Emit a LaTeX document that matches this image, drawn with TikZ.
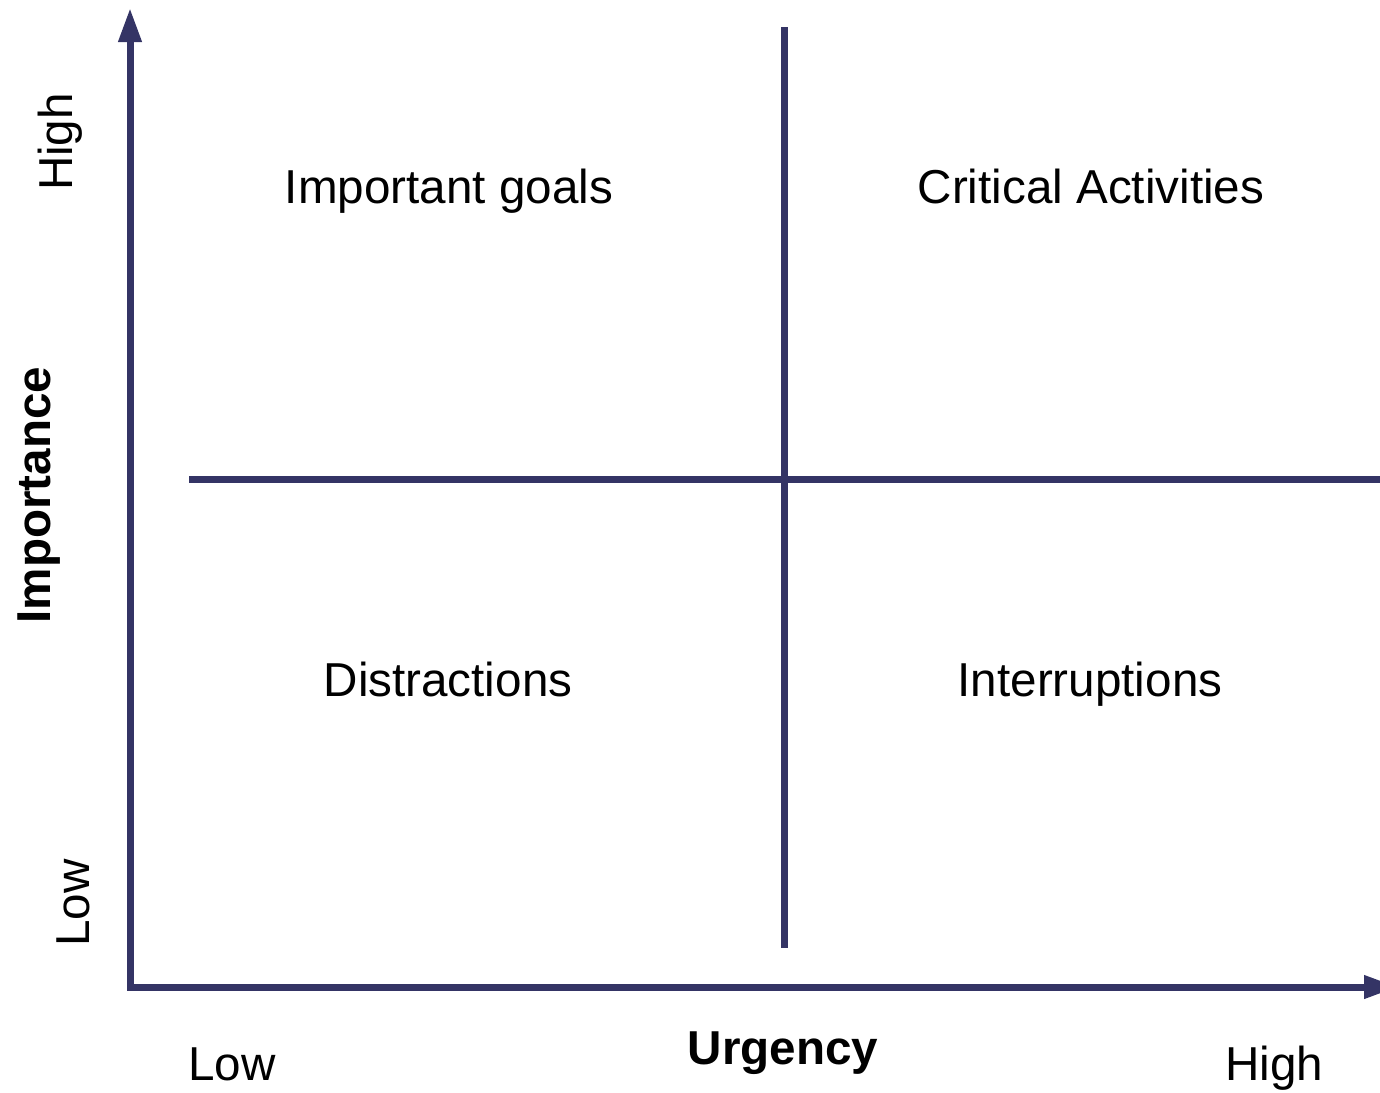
\documentclass[tikz,border=0pt]{standalone}
\usepackage{fontspec}
\setmainfont{Liberation Sans}
\usetikzlibrary{arrows.meta}
\definecolor{axisblue}{HTML}{343465}
\tikzset{
  axis/.style={draw=axisblue,line width=3.5pt,-{Triangle[length=17pt,width=11pt]}},
  divider/.style={draw=axisblue,line width=3.5pt},
  quadrant/.style={anchor=base,font=\fontsize{23.8}{28}\selectfont},
  tick/.style={anchor=base,font=\fontsize{23.8}{28}\selectfont},
  title/.style={anchor=base,font=\fontsize{23.8}{28}\selectfont\bfseries}
}
\begin{document}
\begin{tikzpicture}[x=0.5pt,y=-0.5pt]
      \useasboundingbox (0,0) rectangle (1380,1092);
      \coordinate (o) at (130,987);
      \coordinate (ytip) at (130,8);
      \coordinate (xtip) at (1398,987);
      \coordinate (vtop) at (784,27);
      \coordinate (vbot) at (784,948);
      \coordinate (hleft) at (189,479);
      \coordinate (hright) at (1380,479);
      % axes
      \draw[axis,line cap=rect] (o) -- (ytip);
      \draw[axis,line cap=rect] (o) -- (xtip);
      % quadrant dividers
      \draw[divider] (vtop) -- (vbot);
      \draw[divider] (hleft) -- (hright);
      % quadrants
      \node[quadrant] (goals) at (449,203) {Important goals};
      \node[quadrant] (critical) at (1091,203) {Critical Activities};
      \node[quadrant] (distract) at (448,696) {Distractions};
      \node[quadrant] (interrupt) at (1090,696) {Interruptions};
      % urgency axis labels
      \node[tick] (xlow) at (232,1080) {Low};
      \node[title] (xtitle) at (783,1064) {Urgency};
      \node[tick] (xhigh) at (1274,1080) {High};
      % importance axis labels
      \node[tick,rotate=90] (yhigh) at (72,142) {High};
      \node[title,rotate=90] (ytitle) at (50,495) {Importance};
      \node[tick,rotate=90] (ylow) at (89,903) {Low};
    \end{tikzpicture}
\end{document}
